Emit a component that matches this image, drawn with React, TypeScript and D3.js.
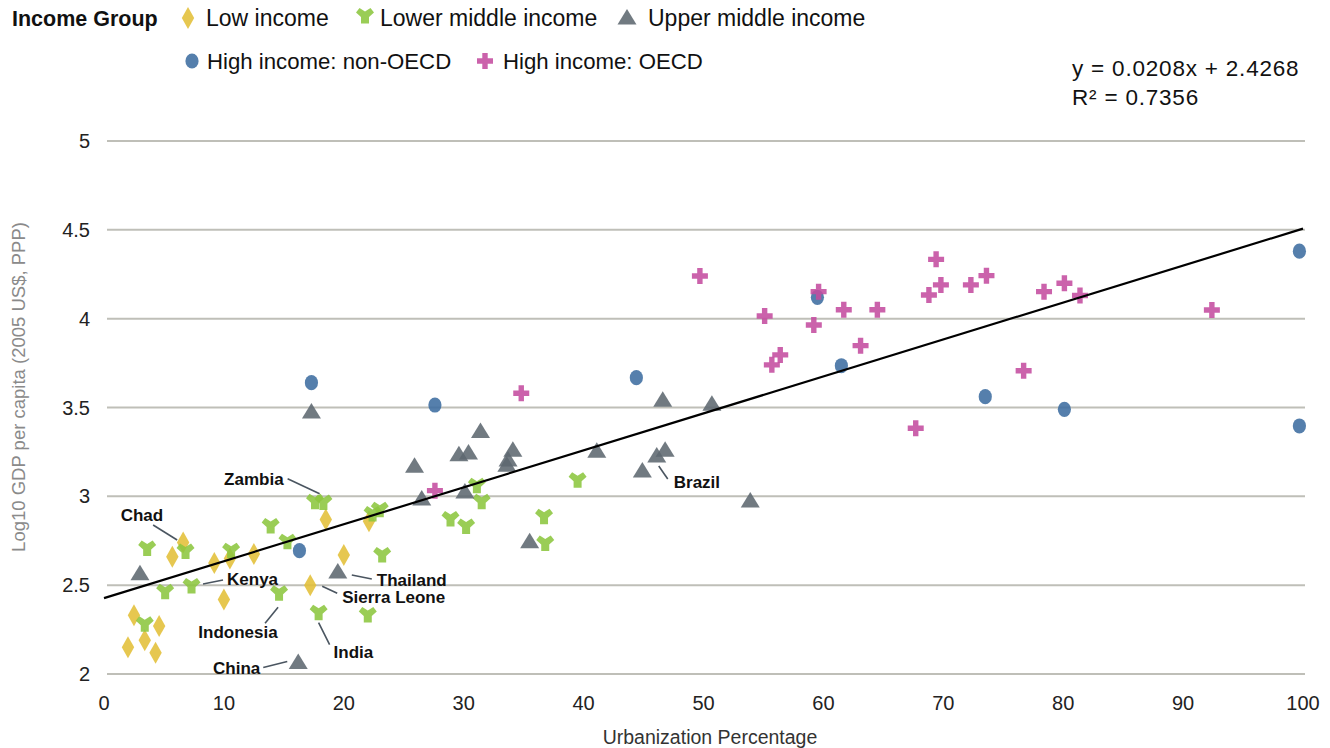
import React from "react";
import * as d3 from "d3";

// ---------- data ----------
const xTicks = [0, 10, 20, 30, 40, 50, 60, 70, 80, 90, 100];
const yTicks = [2, 2.5, 3, 3.5, 4, 4.5, 5];
const yTickLabels = ["2", "2.5", "3", "3.5", "4", "4.5", "5"];

const lowIncomeX = [2.5, 3.4, 4.6, 2.0, 4.3, 5.7, 6.6, 9.2, 10.5, 12.5, 10.0, 17.2, 18.5, 20.0, 22.1];
const lowIncomeY = [2.33, 2.19, 2.27, 2.15, 2.12, 2.66, 2.74, 2.625, 2.65, 2.675, 2.42, 2.5, 2.87, 2.67, 2.86];

const lowerMiddleX = [3.6, 6.8, 10.6, 13.9, 15.3, 5.1, 7.3, 14.6, 3.4, 17.9, 22.0, 23.2, 17.6, 18.3, 22.4, 23.0, 28.9, 30.2, 31.1, 31.5, 39.5, 36.7, 36.8];
const lowerMiddleY = [2.707, 2.69, 2.694, 2.833, 2.745, 2.463, 2.495, 2.454, 2.28, 2.345, 2.332, 2.67, 2.97, 2.965, 2.9, 2.925, 2.873, 2.83, 3.06, 2.97, 3.09, 2.885, 2.735];

const upperMiddleX = [3.0, 17.3, 16.2, 19.5, 25.9, 26.5, 29.6, 30.1, 30.4, 31.4, 33.6, 33.7, 34.1, 35.5, 41.1, 44.9, 46.1, 46.6, 46.8, 50.7, 53.9];
const upperMiddleY = [2.57, 3.48, 2.07, 2.58, 3.175, 2.99, 3.24, 3.03, 3.25, 3.37, 3.18, 3.21, 3.265, 2.75, 3.26, 3.148, 3.233, 3.546, 3.265, 3.524, 2.98];

const highNonOecdX = [17.3, 16.3, 27.6, 44.4, 59.5, 61.5, 73.5, 80.1, 99.7, 99.7];
const highNonOecdY = [3.64, 2.694, 3.514, 3.668, 4.12, 3.735, 3.561, 3.49, 4.38, 3.396];

const highOecdX = [27.6, 34.8, 49.7, 59.6, 55.1, 59.2, 61.7, 64.5, 63.1, 56.4, 55.7, 69.4, 69.8, 68.8, 72.3, 73.6, 78.4, 80.1, 81.4, 76.7, 67.7, 92.4];
const highOecdY = [3.032, 3.58, 4.24, 4.152, 4.015, 3.964, 4.05, 4.05, 3.848, 3.796, 3.74, 4.334, 4.19, 4.133, 4.19, 4.242, 4.152, 4.199, 4.13, 3.707, 3.383, 4.049];

const seriesNames = ["Low income", "Lower middle income", "Upper middle income", "High income: non-OECD", "High income: OECD"];

const trendSlope = 0.0208;
const trendIntercept = 2.4268;
const equationText = "y = 0.0208x + 2.4268";
const r2Text = "R² = 0.7356";

const labelNames = ["Zambia", "Chad", "Kenya", "Thailand", "Sierra Leone", "Indonesia", "India", "China", "Brazil"];
const labelPointX = [17.9, 6.6, 7.3, 19.5, 17.2, 14.6, 17.9, 16.2, 46.1];
const labelPointY = [2.97, 2.74, 2.495, 2.58, 2.5, 2.454, 2.345, 2.07, 3.233];

// ---------- layout / style ----------
const W = 1330;
const H = 748;
const plot = { left: 104, right: 1303, top: 141, bottom: 674 };
const FONT = "'Liberation Sans', Arial, sans-serif";

const colors = ["#E3BF38", "#8CC63F", "#5D6870", "#3E6DA0", "#C44C9F"];
const markerOpacity = 0.88;

// label layout offsets (pixels, relative to the labeled point)
const labelLayout: { anchor: string; dx: number; dy: number; l1: [number, number]; l2: [number, number] }[] = [
  { anchor: "end", dx: -35, dy: -23, l1: [-31, -23], l2: [1, -8] },
  { anchor: "end", dx: -20, dy: -27, l1: [-30, -17.5], l2: [-6, -2.5] },
  { anchor: "start", dx: 35.5, dy: -7, l1: [11.5, -2], l2: [31.5, -6] },
  { anchor: "start", dx: 39, dy: 9, l1: [14, 4], l2: [34, 8] },
  { anchor: "start", dx: 32, dy: 12, l1: [12, 1], l2: [27, 8] },
  { anchor: "middle", dx: -41, dy: 39, l1: [-1, 14], l2: [-14, 30] },
  { anchor: "start", dx: 15, dy: 39, l1: [0, 10], l2: [11, 32] },
  { anchor: "end", dx: -38, dy: 6, l1: [-35, 6], l2: [-11, 0] },
  { anchor: "start", dx: 17, dy: 27, l1: [2, 11], l2: [11, 24] },
];

const markerPaths = [
  "M0,-11 L6.2,0 L0,11 L-6.2,0 Z",
  "M-9,-3.5 L-5.5,-8 L0,-4.5 L5.5,-8 L9,-3.5 L4,1 L4,7.5 L-4,7.5 L-4,1 Z",
  "M0,-8 L9.5,7.5 L-9.5,7.5 Z",
  "",
  "M-2.7,-8 L2.7,-8 L2.7,-2.7 L8,-2.7 L8,2.7 L2.7,2.7 L2.7,8 L-2.7,8 L-2.7,2.7 L-8,2.7 L-8,-2.7 L-2.7,-2.7 Z",
];

function Marker({ kind, x, y }: { kind: number; x: number; y: number }) {
  if (kind === 3) {
    return <ellipse cx={x} cy={y} rx={6.6} ry={7.6} fill={colors[3]} fillOpacity={markerOpacity} />;
  }
  return <path d={markerPaths[kind]} transform={`translate(${x},${y})`} fill={colors[kind]} fillOpacity={markerOpacity} />;
}

export default function App() {
  const x = d3.scaleLinear().domain([0, 100]).range([plot.left, plot.right]);
  const y = d3.scaleLinear().domain([2, 5]).range([plot.bottom, plot.top]);

  const series = [
    d3.zip(lowIncomeX, lowIncomeY),
    d3.zip(lowerMiddleX, lowerMiddleY),
    d3.zip(upperMiddleX, upperMiddleY),
    d3.zip(highNonOecdX, highNonOecdY),
    d3.zip(highOecdX, highOecdY),
  ];

  const trend = d3
    .line<number>()
    .x((d) => x(d))
    .y((d) => y(trendIntercept + trendSlope * d));

  // legend positions
  const legendItems = [
    { mx: 188, my: 18, tx: 206, ty: 18, fs: 23 },
    { mx: 365, my: 16, tx: 380, ty: 18, fs: 23 },
    { mx: 627, my: 17, tx: 648, ty: 18, fs: 23 },
    { mx: 192, my: 61, tx: 207, ty: 61, fs: 22.2 },
    { mx: 485, my: 61, tx: 503, ty: 61, fs: 22.2 },
  ];

  return (
    <svg width={W} height={H} style={{ position: "absolute", left: 0, top: 0, background: "#fff" }} fontFamily={FONT}>
      <rect x={0} y={0} width={W} height={H} fill="#fff" />
      {/* gridlines */}
      {yTicks.map((t) => (
        <line key={t} x1={x(0) + 3} x2={x(100) + 2} y1={y(t)} y2={y(t)} stroke="#BFBFB8" strokeWidth={2} />
      ))}
      {/* y tick labels */}
      {yTicks.map((t, i) => (
        <text key={t} x={90} y={y(t)} dy="0.35em" textAnchor="end" fontSize={20} fill="#222">
          {yTickLabels[i]}
        </text>
      ))}
      {/* x tick labels */}
      {xTicks.map((t) => (
        <text key={t} x={x(t)} y={703} dy="0.35em" textAnchor="middle" fontSize={20} fill="#222">
          {t}
        </text>
      ))}
      {/* axis titles */}
      <text x={710} y={737} dy="0.35em" textAnchor="middle" fontSize={19.5} fill="#333">
        Urbanization Percentage
      </text>
      <text transform={`translate(19,387) rotate(-90)`} dy="0.35em" textAnchor="middle" fontSize={18.5} fill="#8A8A8A">
        Log10 GDP per capita (2005 US$, PPP)
      </text>

      {/* markers */}
      {series.map((s, k) => (
        <g key={k}>
          {s.map((d, i) => (
            <Marker key={i} kind={k} x={x(d[0])} y={y(d[1])} />
          ))}
        </g>
      ))}

      {/* trendline */}
      <path d={trend([0, 100]) || ""} fill="none" stroke="#000" strokeWidth={2.2} />

      {/* labels */}
      {labelNames.map((name, i) => {
        const px = x(labelPointX[i]);
        const py = y(labelPointY[i]);
        const L = labelLayout[i];
        return (
          <g key={name}>
            <line x1={px + L.l1[0]} y1={py + L.l1[1]} x2={px + L.l2[0]} y2={py + L.l2[1]} stroke="#4A5560" strokeWidth={1.6} />
            <text x={px + L.dx} y={py + L.dy} dy="0.35em" textAnchor={L.anchor} fontSize={17} fontWeight="bold" fill="#111">
              {name}
            </text>
          </g>
        );
      })}

      {/* equation */}
      <text x={1072} y={68} dy="0.35em" fontSize={22.5} letterSpacing={0.8} fill="#111">
        {equationText}
      </text>
      <text x={1072} y={97} dy="0.35em" fontSize={22.5} letterSpacing={0.8} fill="#111">
        {r2Text}
      </text>

      {/* legend */}
      <g>
        <text x={12} y={18} dy="0.35em" fontSize={21.5} fontWeight="bold" fill="#111">
          Income Group
        </text>
        {legendItems.map((it, k) => (
          <g key={k}>
            <Marker kind={k} x={it.mx} y={it.my} />
            <text x={it.tx} y={it.ty} dy="0.35em" fontSize={it.fs} fill="#111">
              {seriesNames[k]}
            </text>
          </g>
        ))}
      </g>
    </svg>
  );
}
